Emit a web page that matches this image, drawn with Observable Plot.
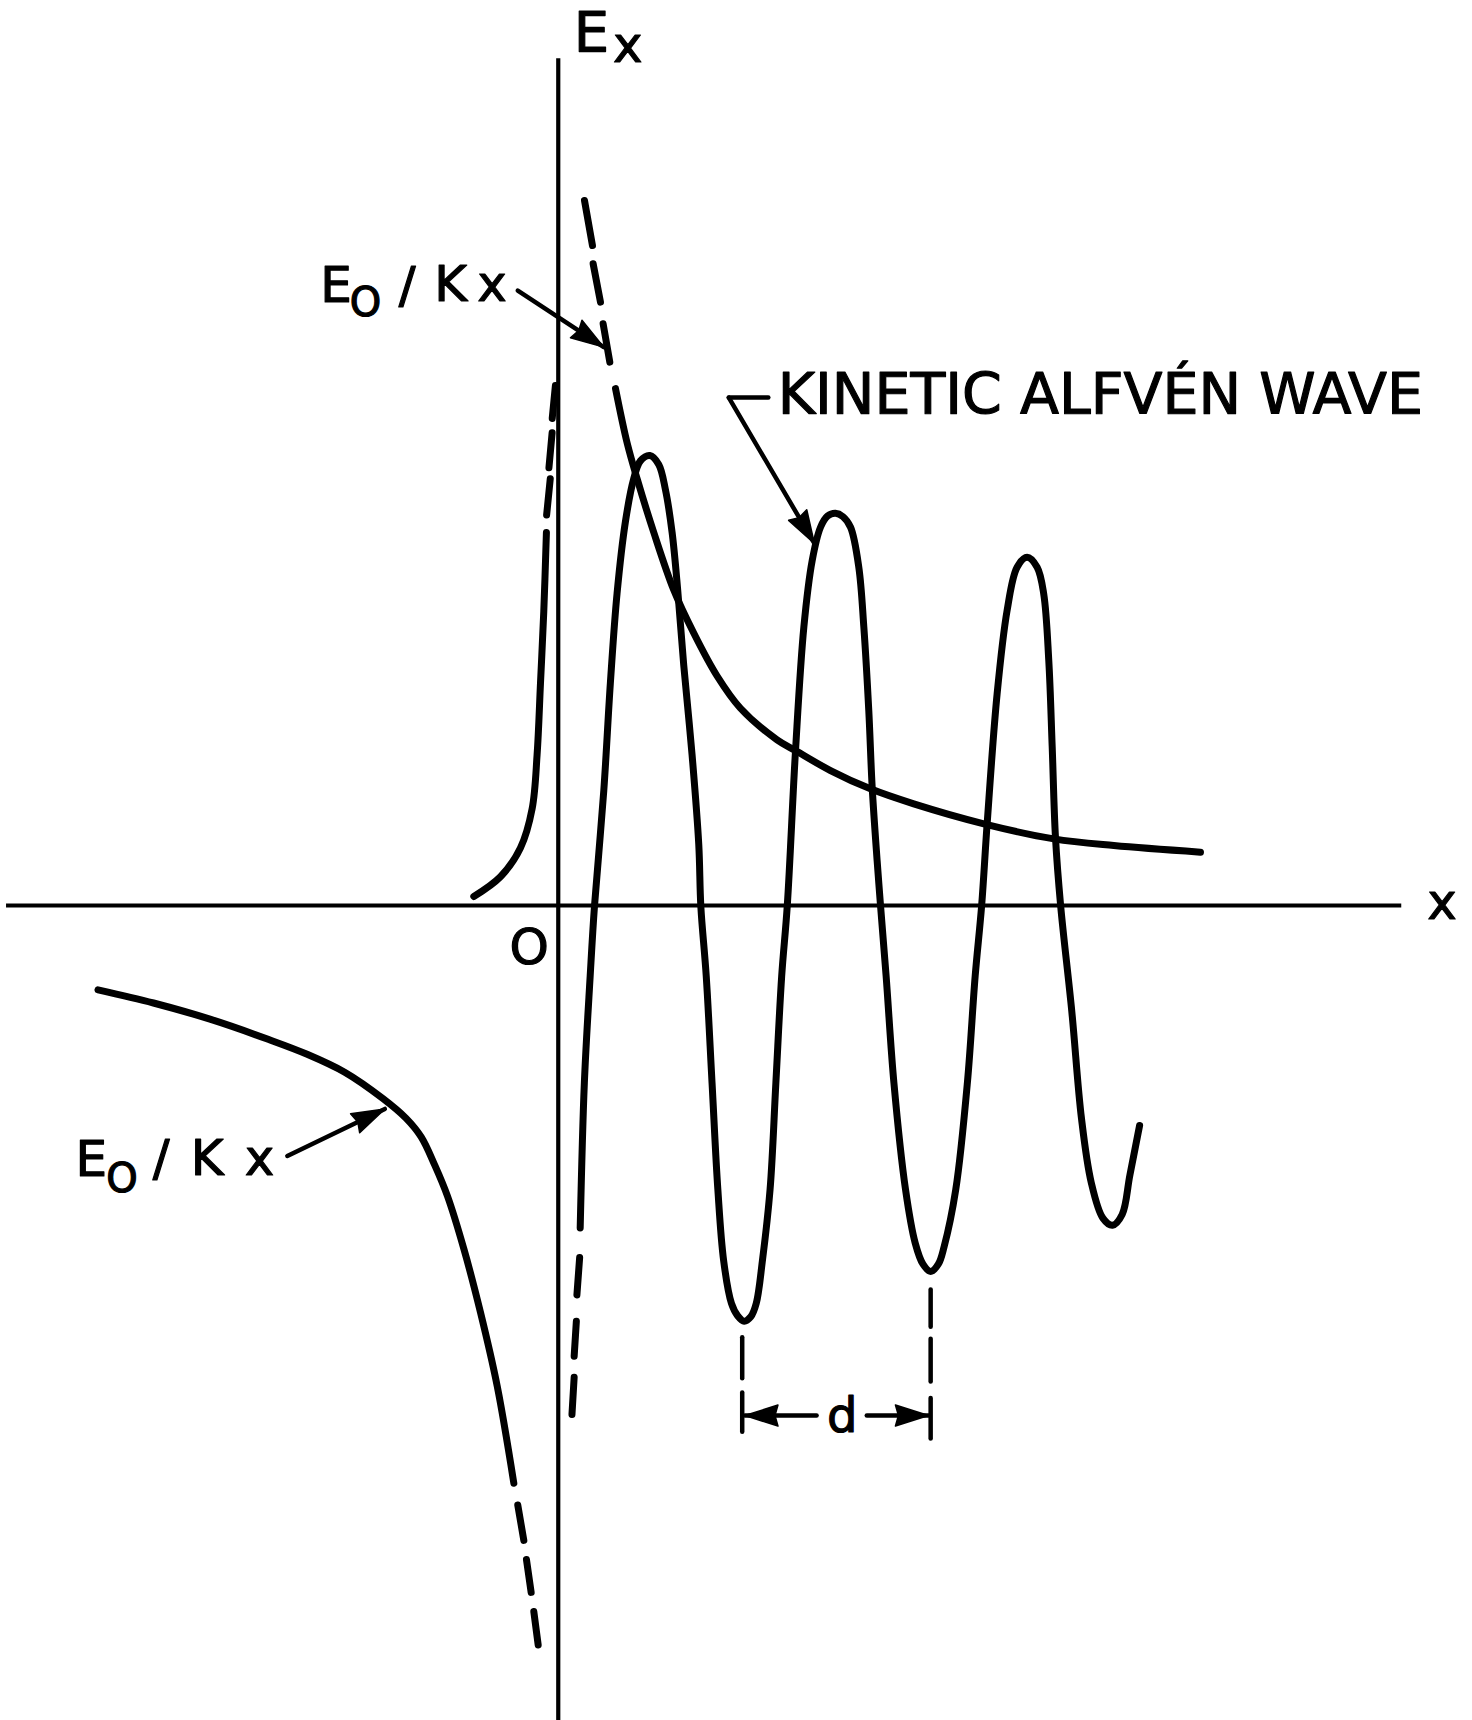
<!DOCTYPE html>
<html>
<head>
<meta charset="utf-8">
<script src="https://cdn.jsdelivr.net/npm/d3@7"></script>
<script src="https://cdn.jsdelivr.net/npm/@observablehq/plot@0.6"></script>
<style>
  html, body { margin: 0; padding: 0; background: #ffffff; }
  #chart svg { display: block; }
</style>
</head>
<body>
<div id="chart"></div>
<script>
// ---------- data (x, Ex), arbitrary units, origin at axis crossing ----------
const xAxisExtent = [-5.03, 7.69];
const yAxisExtent = [-7.43, 7.72];

// E0/Kx, branch x > 0 (dashed near the axis, then solid)
const hypRightDashes = [
  [0.239, 6.427, 0.312, 6.016],
  [0.318, 5.85, 0.385, 5.50],
  [0.409, 5.303, 0.47, 4.953]
];
const hypRightSolid = [
  [0.522, 4.712], [0.628, 4.216], [0.719, 3.89], [0.871, 3.40], [1.053, 2.876],
  [1.235, 2.484], [1.448, 2.092], [1.661, 1.798], [1.995, 1.51], [2.163, 1.412],
  [2.482, 1.23], [2.846, 1.063], [3.241, 0.926], [3.88, 0.744], [4.518, 0.607],
  [5.065, 0.546], [5.855, 0.486]
];

// E0/Kx, branch x < 0 (solid, then dashed near the axis)
const hypLeftSolid = [
  [-4.196, -0.769], [-3.69, -0.889], [-3.168, -1.039], [-2.645, -1.22], [-2.295, -1.354],
  [-1.947, -1.52], [-1.599, -1.76], [-1.389, -1.939], [-1.25, -2.11], [-1.125, -2.37],
  [-1.01, -2.65], [-0.861, -3.13], [-0.709, -3.71], [-0.557, -4.38], [-0.405, -5.267]
];
const hypLeftDashes = [
  [-0.369, -5.466, -0.314, -5.788],
  [-0.29, -5.963, -0.247, -6.262],
  [-0.223, -6.437, -0.183, -6.742]
];

// Kinetic Alfvén wave, x < 0
const waveLeftSolid = [
  [-0.77, 0.082], [-0.527, 0.262], [-0.345, 0.524], [-0.238, 0.883], [-0.193, 1.373],
  [-0.162, 2.027], [-0.132, 2.68], [-0.108, 3.40]
];
const waveLeftDashes = [
  [-0.106, 3.56, -0.073, 3.89],
  [-0.085, 3.99, -0.056, 4.31],
  [-0.055, 4.44, -0.026, 4.74]
];

// Kinetic Alfvén wave, x > 0
const waveRightDashes = [
  [0.125, -4.64, 0.145, -4.30],
  [0.145, -4.11, 0.165, -3.79],
  [0.17, -3.55, 0.195, -3.21]
];
const waveRightSolid = [
  [0.20, -2.94], [0.238, -1.616], [0.291, -0.643], [0.33, -0.01], [0.415, 1.046],
  [0.475, 2.027], [0.536, 2.844], [0.612, 3.497], [0.688, 3.89], [0.749, 4.053],
  [0.835, 4.102], [0.916, 4.02], [0.977, 3.791], [1.038, 3.40], [1.089, 2.876],
  [1.144, 2.19], [1.22, 1.373], [1.281, 0.556], [1.30, -0.01], [1.349, -0.643],
  [1.402, -1.616], [1.455, -2.59], [1.508, -3.24], [1.579, -3.628], [1.635, -3.74],
  [1.695, -3.79], [1.755, -3.75], [1.805, -3.628], [1.861, -3.24], [1.931, -2.59],
  [1.984, -1.616], [2.037, -0.643], [2.088, 0.0], [2.163, 1.412], [2.239, 2.537],
  [2.315, 3.144], [2.391, 3.448], [2.455, 3.55], [2.527, 3.575], [2.595, 3.545],
  [2.665, 3.448], [2.74, 3.084], [2.786, 2.537], [2.831, 1.777], [2.862, 1.078],
  [2.907, 0.41], [2.938, 0.0], [2.989, -0.643], [3.06, -1.616], [3.166, -2.59],
  [3.254, -3.077], [3.325, -3.27], [3.395, -3.336], [3.465, -3.27], [3.518, -3.11],
  [3.624, -2.59], [3.73, -1.616], [3.801, -0.643], [3.86, 0.0], [3.91, 0.744],
  [4.001, 1.929], [4.092, 2.689], [4.183, 3.084], [4.274, 3.175], [4.366, 3.084],
  [4.426, 2.84], [4.472, 2.233], [4.503, 1.45], [4.533, 0.622], [4.58, 0.0],
  [4.682, -0.967], [4.77, -1.94], [4.859, -2.525], [4.965, -2.85], [5.053, -2.915],
  [5.141, -2.817], [5.211, -2.46], [5.30, -2.006]
];

// wavelength d: extension lines and dimension arrows
const dimLines = [
  [1.677, -3.937, 1.677, -4.31],
  [1.677, -4.44, 1.677, -4.797],
  [3.395, -3.50, 3.395, -3.84],
  [3.395, -3.95, 3.395, -4.34],
  [3.395, -4.49, 3.395, -4.86]
];

// annotation arrows: tail -> tip
const arrows = [
  {x1: -0.369, y1: 5.606, x2: 0.415, y2: 5.09},     // E0/Kx (upper)
  {x1: -2.47, y1: -2.284, x2: -1.581, y2: -1.855},  // E0/Kx (lower)
  {x1: 1.555, y1: 4.63, x2: 2.335, y2: 3.30},       // kinetic Alfvén wave
  {x1: 2.355, y1: -4.65, x2: 1.702, y2: -4.65},     // d, left
  {x1: 2.813, y1: -4.65, x2: 3.375, y2: -4.65}      // d, right
];
const leader = [{x1: 1.555, y1: 4.63, x2: 1.915, y2: 4.63}];

// labels (glyph centre x, baseline y)
const labelMain = [
  {t: "E", x: -2.025, y: 5.50}, {t: "/", x: -1.377, y: 5.50},
  {t: "K", x: -0.982, y: 5.515}, {t: "x", x: -0.603, y: 5.515},
  {t: "E", x: -4.258, y: -2.463}, {t: "/", x: -3.62, y: -2.46},
  {t: "K", x: -3.202, y: -2.46}, {t: "x", x: -2.723, y: -2.46}
];
const labelSub = [
  {t: "O", x: -1.758, y: 5.378},
  {t: "O", x: -3.978, y: -2.61}
];
const axisNames = [
  {t: "E", x: 0.303, y: 7.794, big: true},
  {t: "x", x: 0.635, y: 7.685, big: false},
  {t: "x", x: 8.058, y: -0.122, big: false}
];
const originLabel = [{t: "O", x: -0.265, y: -0.53}];
const waveTitle = [{t: "KINETIC ALFVÉN WAVE", x: 2.0, y: 4.482}];
const dLabel = [{t: "d", x: 2.59, y: -4.80}];

// ---------- drawing ----------
const FONT = "DejaVu Sans";
const CURVE_W = 7;
const INK = "#000000";

// filled arrowhead whose tip sits on the anchor point, pointing up before rotation
const arrowHead = {
  draw(ctx) {
    const L = 33, W = 21;
    ctx.moveTo(0, 0);
    ctx.lineTo(W / 2, L);
    ctx.lineTo(0, L - 3);
    ctx.lineTo(-W / 2, L);
    ctx.closePath();
  }
};
const seg = {x1: d => d[0], y1: d => d[1], x2: d => d[2], y2: d => d[3]};
const curveStyle = {curve: "catmull-rom", stroke: INK, strokeWidth: CURVE_W, strokeLinecap: "round", strokeLinejoin: "round"};
const dashStyle = {...seg, stroke: INK, strokeWidth: CURVE_W, strokeLinecap: "round"};
const textStyle = {x: "x", y: "y", text: "t", fontFamily: FONT, lineAnchor: "bottom", fill: INK, stroke: INK, strokeWidth: 1.2};

const chart = Plot.plot({
  width: 1472,
  height: 1720,
  margin: 0,
  x: {domain: [-5.085, 8.335], axis: null},
  y: {domain: [-7.43, 8.25], axis: null},
  style: {background: "#ffffff", color: INK},
  marks: [
    // axes
    Plot.ruleY([0], {x1: xAxisExtent[0], x2: xAxisExtent[1], stroke: INK, strokeWidth: 4}),
    Plot.ruleX([0], {y1: yAxisExtent[0], y2: yAxisExtent[1], stroke: INK, strokeWidth: 4.2}),

    // E0/Kx
    Plot.line(hypRightSolid, curveStyle),
    Plot.link(hypRightDashes, dashStyle),
    Plot.line(hypLeftSolid, curveStyle),
    Plot.link(hypLeftDashes, dashStyle),

    // kinetic Alfvén wave
    Plot.line(waveLeftSolid, curveStyle),
    Plot.link(waveLeftDashes, dashStyle),
    Plot.line(waveRightSolid, curveStyle),
    Plot.link(waveRightDashes, dashStyle),

    // wavelength d
    Plot.link(dimLines, {...seg, stroke: INK, strokeWidth: 4.5, strokeLinecap: "round"}),

    // annotation arrows
    Plot.link(arrows, {x1: "x1", y1: "y1", x2: "x2", y2: "y2", stroke: INK, strokeWidth: 4.5, strokeLinecap: "round"}),
    Plot.link(leader, {x1: "x1", y1: "y1", x2: "x2", y2: "y2", stroke: INK, strokeWidth: 4.5, strokeLinecap: "round"}),
    Plot.dot(arrows, {
      x: "x2", y: "y2",
      symbol: arrowHead,
      rotate: d => Math.atan2(d.x2 - d.x1, d.y2 - d.y1) * 180 / Math.PI,
      fill: INK, stroke: INK, strokeWidth: 1.5, strokeLinejoin: "round"
    }),

    // labels
    Plot.text(labelMain, {...textStyle, fontSize: 50, textAnchor: "middle"}),
    Plot.text(labelSub, {...textStyle, fontSize: 40, textAnchor: "middle"}),
    Plot.text(axisNames.filter(d => d.big), {...textStyle, fontSize: 56, textAnchor: "middle"}),
    Plot.text(axisNames.filter(d => !d.big), {...textStyle, fontSize: 50, textAnchor: "middle"}),
    Plot.text(originLabel, {...textStyle, fontSize: 50, textAnchor: "middle"}),
    Plot.text(waveTitle, {...textStyle, fontSize: 57, textAnchor: "start"}),
    Plot.text(dLabel, {...textStyle, fontSize: 48, textAnchor: "middle"})
  ]
});

document.getElementById("chart").appendChild(chart);
</script>
</body>
</html>
